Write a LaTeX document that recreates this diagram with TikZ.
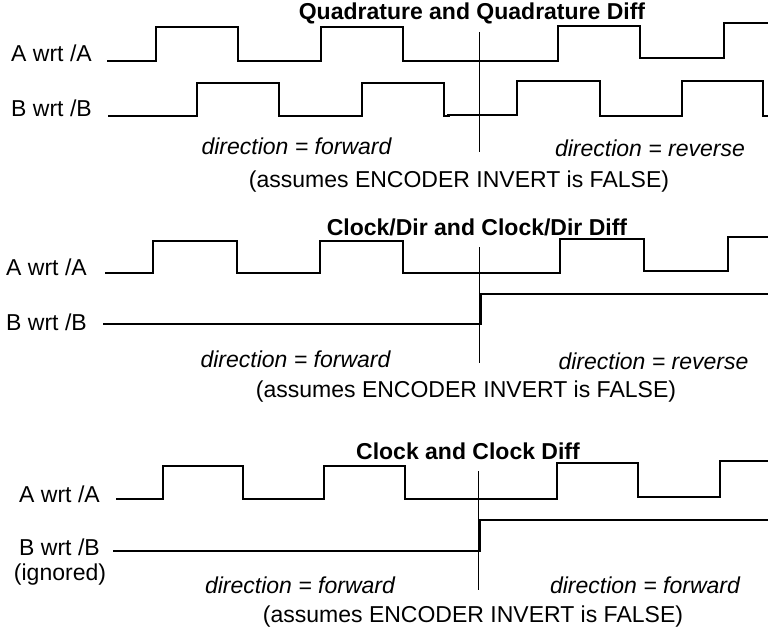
\documentclass[tikz,border=0pt]{standalone}
\usepackage{fontspec}
\setmainfont{Liberation Sans}
\begin{document}
\begin{tikzpicture}[x=1pt,y=-1pt,
  wave/.style={line width=1.6pt, line join=miter},
  marker/.style={line width=0.9pt},
  lbl/.style={font=\fontsize{23}{27}\selectfont, inner sep=0pt, anchor=base},
  ttl/.style={lbl, font=\fontsize{23}{27}\selectfont\bfseries},
  dirtxt/.style={lbl, font=\fontsize{23}{27}\selectfont\itshape}]
\useasboundingbox (0,0) rectangle (768,631);

% ---------- Quadrature ----------
\node[ttl] (t1) at (472,20) {Quadrature and Quadrature Diff};
\node[lbl] (a1) at (51.5,62) {A wrt /A};
\node[lbl] (b1) at (51.5,117) {B wrt /B};
\node[dirtxt] (f1) at (296.5,155) {direction = forward};
\node[dirtxt] (r1) at (650,157) {direction = reverse};
\node[lbl] (n1) at (459,188) {(assumes ENCODER INVERT is FALSE)};
\coordinate (a1s) at (107,61);
\coordinate (b1s) at (108,116);
\coordinate (m1t) at (479,32);
\coordinate (m1b) at (479,152);
\draw[wave] (a1s) -- (156,61) -- (156,27) -- (238,27) -- (238,61) -- (321,61) -- (321,27)
  -- (403,27) -- (403,61) -- (558,61) -- (558,26) -- (640,26) -- (640,58) -- (724,58)
  -- (724,23) -- (768,23);
\draw[wave] (b1s) -- (197,116) -- (197,83) -- (279,83) -- (279,116) -- (362,116) -- (362,83)
  -- (444,83) -- (444,116) -- (450,116);
\draw[wave] (447,115) -- (517,115) -- (517,81) -- (600,81) -- (600,116) -- (682,116)
  -- (682,81) -- (763,81) -- (763,116) -- (768,116);
\draw[marker] (m1t) -- (m1b);

% ---------- Clock/Dir ----------
\node[ttl] (t2) at (477,235) {Clock/Dir and Clock/Dir Diff};
\node[lbl] (a2) at (46.5,275) {A wrt /A};
\node[lbl] (b2) at (46.5,330) {B wrt /B};
\node[dirtxt] (f2) at (295.5,367) {direction = forward};
\node[dirtxt] (r2) at (653.5,369) {direction = reverse};
\node[lbl] (n2) at (466,397) {(assumes ENCODER INVERT is FALSE)};
\coordinate (a2s) at (105,273);
\coordinate (b2s) at (103,324);
\coordinate (m2t) at (479,247);
\coordinate (m2b) at (479,363);
\draw[wave] (a2s) -- (153,273) -- (153,241) -- (237,241) -- (237,273) -- (320,273) -- (320,241)
  -- (403,241) -- (403,273) -- (560,273) -- (560,239) -- (644,239) -- (644,271) -- (728,271)
  -- (728,237) -- (768,237);
\draw[wave] (b2s) -- (481,324) -- (481,294) -- (768,294);
\draw[marker] (m2t) -- (m2b);

% ---------- Clock ----------
\node[ttl] (t3) at (468,459) {Clock and Clock Diff};
\node[lbl] (a3) at (59.5,502) {A wrt /A};
\node[lbl] (b3) at (59.5,555.5) {B wrt /B};
\node[lbl] (g3) at (60,580) {(ignored)};
\node[dirtxt] (f3) at (300,593) {direction = forward};
\node[dirtxt] (r3) at (645,593) {direction = forward};
\node[lbl] (n3) at (473,622) {(assumes ENCODER INVERT is FALSE)};
\coordinate (a3s) at (116,499);
\coordinate (b3s) at (113,551);
\coordinate (m3t) at (478,471);
\coordinate (m3b) at (478,590);
\draw[wave] (a3s) -- (163,499) -- (163,466) -- (243,466) -- (243,499) -- (324,499) -- (324,466)
  -- (405,466) -- (405,499) -- (557,499) -- (557,463) -- (638,463) -- (638,497) -- (720,497)
  -- (720,461) -- (768,461);
\draw[wave] (b3s) -- (480,551) -- (480,520) -- (768,520);
\draw[marker] (m3t) -- (m3b);
\end{tikzpicture}
\end{document}
